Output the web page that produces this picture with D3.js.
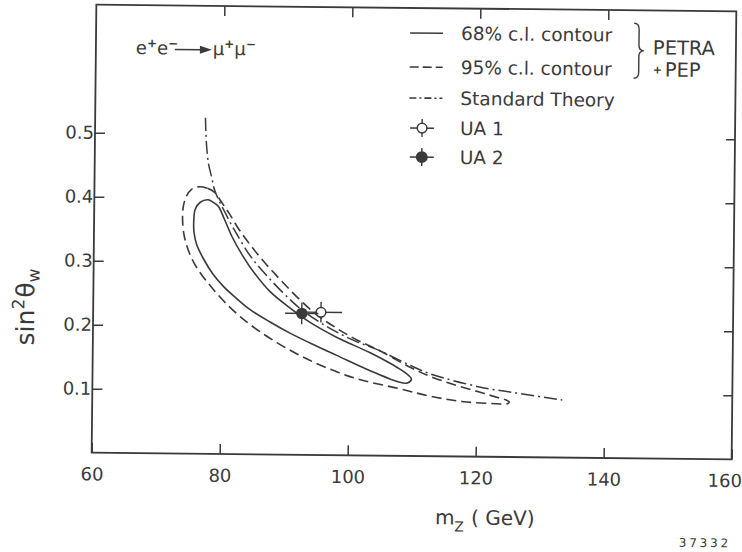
<!DOCTYPE html>
<html><head><meta charset="utf-8">
<script src="https://cdn.jsdelivr.net/npm/d3@7"></script>
<style>body{margin:0;background:#fff}</style>
</head><body>
<svg id="chart" width="742" height="552"></svg>
<script>
// ---------- data ----------
const xTicks = [60, 80, 100, 120, 140, 160];
const yTicks = [0.1, 0.2, 0.3, 0.4, 0.5];
const xTopTicks = [80, 100, 120, 140];

// 68% c.l. contour (closed), [mZ (GeV), sin^2 theta_W]
const contour68 = [[77.77,0.397],[78.59,0.393],[79.38,0.387],[80.31,0.368],[81.56,0.340],[83.28,0.310],[85.0,0.285],[87.66,0.254],[90.78,0.229],[93.91,0.207],[98.13,0.184],[103.28,0.161],[106.41,0.145],[108.28,0.134],[109.38,0.126],[109.84,0.120],[109.22,0.114],[107.97,0.115],[103.28,0.133],[98.13,0.156],[93.91,0.175],[90.78,0.190],[87.66,0.207],[84.53,0.226],[82.19,0.245],[80.31,0.262],[78.59,0.282],[77.19,0.304],[76.09,0.326],[75.63,0.346],[75.58,0.366],[75.78,0.382],[76.56,0.393]];

// 95% c.l. contour (closed)
const contour95 = [[76.20,0.417],[77.66,0.415],[78.75,0.409],[79.84,0.394],[81.09,0.376],[82.66,0.351],[84.53,0.326],[86.88,0.298],[89.22,0.273],[91.88,0.246],[94.69,0.221],[97.81,0.200],[100.94,0.182],[104.84,0.164],[109.53,0.139],[112.66,0.125],[116.56,0.112],[120.47,0.101],[123.59,0.092],[124.69,0.089],[125.16,0.086],[124.84,0.083],[123.13,0.083],[117.81,0.086],[112.66,0.094],[107.97,0.105],[101.25,0.120],[95.0,0.143],[88.75,0.175],[82.97,0.215],[78.75,0.257],[75.63,0.299],[74.11,0.340],[73.86,0.382],[74.38,0.402],[75.16,0.413]];

// Standard Theory curve
const standardTheory = [[77.23,0.525],[77.34,0.499],[77.5,0.476],[77.81,0.452],[78.28,0.433],[78.75,0.413],[79.38,0.398],[80.47,0.377],[81.88,0.351],[84.53,0.309],[87.66,0.273],[90.78,0.242],[92.66,0.226],[97.03,0.198],[100.94,0.179],[104.84,0.164],[109.53,0.142],[112.66,0.129],[120.47,0.109],[125.63,0.101],[133.44,0.090]];

// UA1 / UA2 measurements
const uaNames = ["UA 1", "UA 2"];
const uaMZ = [95.6, 92.6];
const uaS = [0.223, 0.221];
const uaMZerrLo = [2.2, 2.6];
const uaMZerrHi = [3.3, 2.6];
const uaSerr = [0.016, 0.017];

const legendLabels = ["68% c.l. contour", "95% c.l. contour", "Standard Theory"];

// ---------- drawing ----------
const ink = "#3a3a3a";
const font = "'DejaVu Sans', sans-serif";
const svg = d3.select("#chart");
svg.append("rect").attr("width", 742).attr("height", 552).attr("fill", "#fff");
const g = svg.append("g").attr("transform", "rotate(0.6,414,232)");

const x = d3.scaleLinear().domain([60, 160]).range([94, 734]);
const y = d3.scaleLinear().domain([0, 0.7]).range([456, 8]);

// axes (inward ticks)
const axB = g.append("g").attr("transform", `translate(0,${y(0)})`)
  .call(d3.axisBottom(x).tickValues(xTicks).tickSize(-10).tickSizeOuter(0).tickPadding(15).tickFormat(d3.format("d")));
const axL = g.append("g").attr("transform", `translate(${x(60)},0)`)
  .call(d3.axisLeft(y).tickValues(yTicks).tickSize(-10).tickSizeOuter(0).tickPadding(1).tickFormat(d3.format(".1f")));
const axT = g.append("g").attr("transform", `translate(0,${y(0.7)})`)
  .call(d3.axisTop(x).tickValues(xTopTicks).tickSize(-10).tickSizeOuter(0).tickFormat(""));
const axR = g.append("g").attr("transform", `translate(${x(160)},0)`)
  .call(d3.axisRight(y).tickValues(yTicks).tickSize(-9).tickSizeOuter(0).tickFormat(""));
[axB, axL, axT, axR].forEach(a => {
  a.select(".domain").remove();
  a.selectAll("line").attr("stroke", ink).attr("stroke-width", 1.5);
  a.selectAll("text").attr("fill", ink).style("font-family", font).style("font-size", "18px");
});
// last x label sits at the page edge
axB.selectAll(".tick text").filter(d => d === 160).attr("text-anchor", "end").attr("x", 10);

// frame
g.append("rect").attr("x", x(60)).attr("y", y(0.7))
  .attr("width", x(160) - x(60)).attr("height", y(0) - y(0.7))
  .attr("fill", "none").attr("stroke", ink).attr("stroke-width", 1.8);

// curves
const closedLine = d3.line().x(d => x(d[0])).y(d => y(d[1])).curve(d3.curveCatmullRomClosed.alpha(0.5));
const openLine = d3.line().x(d => x(d[0])).y(d => y(d[1])).curve(d3.curveCatmullRom.alpha(0.5));

g.append("path").attr("d", closedLine(contour95)).attr("fill", "none")
  .attr("stroke", ink).attr("stroke-width", 1.6).attr("stroke-dasharray", "10,5");
g.append("path").attr("d", closedLine(contour68)).attr("fill", "none")
  .attr("stroke", ink).attr("stroke-width", 1.6);
g.append("path").attr("d", openLine(standardTheory)).attr("fill", "none")
  .attr("stroke", ink).attr("stroke-width", 1.5).attr("stroke-dasharray", "13,4,2,4");

// data points with error bars
uaNames.forEach((n, i) => {
  const cx = x(uaMZ[i]), cy = y(uaS[i]);
  g.append("line").attr("x1", x(uaMZ[i] - uaMZerrLo[i])).attr("x2", x(uaMZ[i] + uaMZerrHi[i]))
    .attr("y1", cy).attr("y2", cy).attr("stroke", ink).attr("stroke-width", 1.4);
  g.append("line").attr("x1", cx).attr("x2", cx)
    .attr("y1", y(uaS[i] - uaSerr[i])).attr("y2", y(uaS[i] + uaSerr[i])).attr("stroke", ink).attr("stroke-width", 1.4);
  g.append("circle").attr("cx", cx).attr("cy", cy).attr("r", i === 0 ? 4.8 : 5)
    .attr("fill", i === 0 ? "#fff" : ink).attr("stroke", ink).attr("stroke-width", 1.5);
});

// legend
const lg = g.append("g").attr("fill", ink).style("font-family", font).style("font-size", "18.5px");
const sampleY = [33, 67, 98];
const dashes = [null, "9,4", "7,3,2,3"];
legendLabels.forEach((t, i) => {
  const l = lg.append("line").attr("x1", 408).attr("x2", 441).attr("y1", sampleY[i]).attr("y2", sampleY[i])
    .attr("stroke", ink).attr("stroke-width", 1.6);
  if (dashes[i]) l.attr("stroke-dasharray", dashes[i]);
  lg.append("text").attr("x", 459).attr("y", sampleY[i] + 6.5).text(t);
});
const markY = [128, 157];
uaNames.forEach((n, i) => {
  const mx = 421, my = markY[i];
  lg.append("line").attr("x1", mx - 12).attr("x2", mx + 12).attr("y1", my).attr("y2", my).attr("stroke", ink).attr("stroke-width", 1.4);
  lg.append("line").attr("x1", mx).attr("x2", mx).attr("y1", my - 9).attr("y2", my + 9).attr("stroke", ink).attr("stroke-width", 1.4);
  lg.append("circle").attr("cx", mx).attr("cy", my).attr("r", i === 0 ? 4.8 : 5.2)
    .attr("fill", i === 0 ? "#fff" : ink).attr("stroke", ink).attr("stroke-width", 1.5);
  lg.append("text").attr("x", 459).attr("y", my + 6.5).text(n);
});
// brace and PETRA + PEP
lg.append("path").attr("d", "M632,21 Q637,21 637,27 L637,43 Q637,48.5 642,48.5 Q637,48.5 637,54 L637,70 Q637,76 632,76")
  .attr("fill", "none").attr("stroke", ink).attr("stroke-width", 1.4);
lg.append("text").attr("x", 651).attr("y", 52).style("font-size", "19.5px").text("PETRA");
lg.append("text").attr("x", 651).attr("y", 71).style("font-size", "11px").style("font-weight", "bold").text("+");
lg.append("text").attr("x", 663).attr("y", 74).style("font-size", "19.5px").text("PEP");

// reaction label
const rx = g.append("g").attr("fill", ink).style("font-family", font).style("font-size", "18px");
const t1 = rx.append("text").attr("x", 134).attr("y", 57);
t1.append("tspan").text("e");
t1.append("tspan").attr("dy", -7).style("font-size", "12px").style("font-weight", "bold").text("+");
t1.append("tspan").attr("dy", 7).text("e");
t1.append("tspan").attr("dy", -7).style("font-size", "12px").style("font-weight", "bold").text("\u2212");
rx.append("line").attr("x1", 173).attr("x2", 200).attr("y1", 52).attr("y2", 52).attr("stroke", ink).attr("stroke-width", 1.6);
rx.append("path").attr("d", "M198,48 L210,52 L198,56 Z").attr("fill", ink);
const t2 = rx.append("text").attr("x", 211).attr("y", 57);
t2.append("tspan").text("\u03bc");
t2.append("tspan").attr("dy", -7).style("font-size", "12px").style("font-weight", "bold").text("+");
t2.append("tspan").attr("dy", 7).text("\u03bc");
t2.append("tspan").attr("dy", -7).style("font-size", "12px").style("font-weight", "bold").text("\u2212");

// axis titles
const yl = g.append("text").attr("transform", "translate(35,311) rotate(-90)").attr("text-anchor", "middle")
  .attr("fill", ink).style("font-family", font).style("font-size", "25px");
yl.append("tspan").text("sin");
yl.append("tspan").attr("dy", -10).style("font-size", "17px").text("2");
yl.append("tspan").attr("dy", 10).attr("dx", 1).text("\u03b8");
yl.append("tspan").attr("dy", 5).style("font-size", "17px").text("w");

const xl = g.append("text").attr("x", 438).attr("y", 524).attr("fill", ink)
  .style("font-family", font).style("font-size", "20px");
xl.append("tspan").text("m");
xl.append("tspan").attr("dy", 7).style("font-size", "14px").text("Z");
xl.append("tspan").attr("dy", -7).attr("dx", 7).text("( GeV)");

g.append("text").attr("x", 682).attr("y", 544).attr("fill", ink)
  .style("font-family", font).style("font-size", "12px").style("letter-spacing", "2.8px").text("37332");
</script>
</body></html>
